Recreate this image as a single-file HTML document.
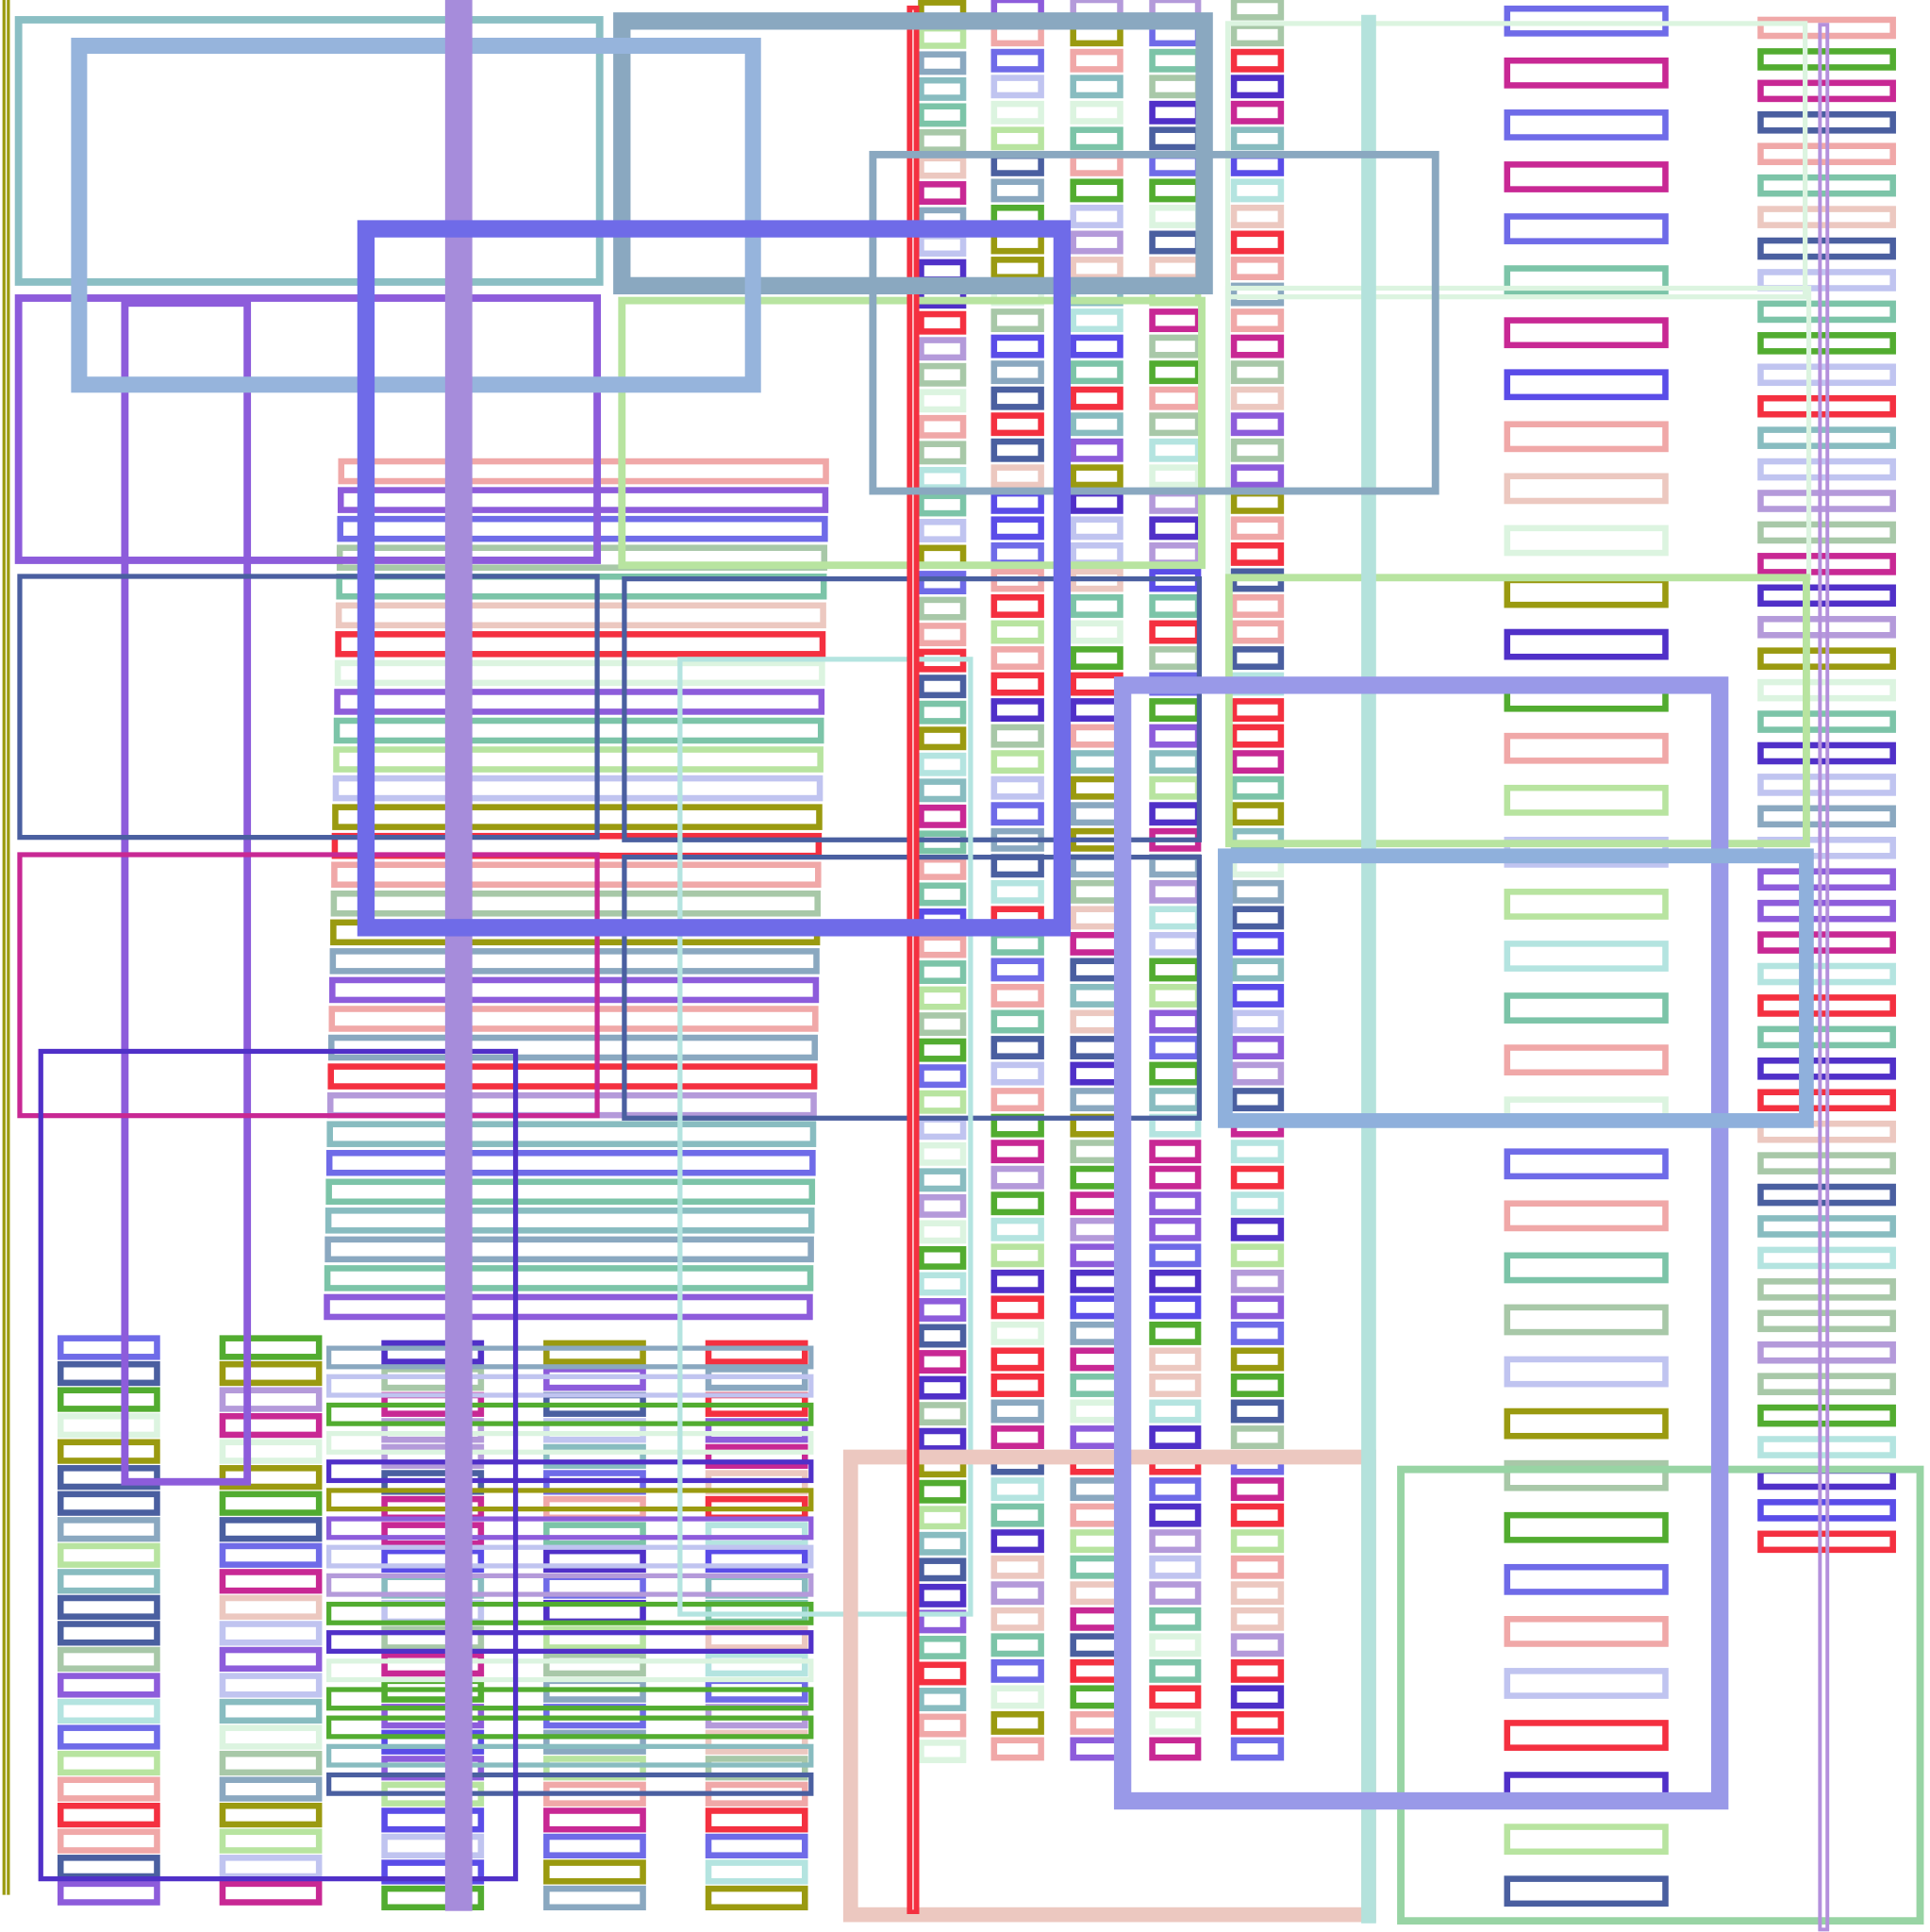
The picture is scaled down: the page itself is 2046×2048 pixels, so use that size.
<!DOCTYPE html>
<html><head><meta charset="utf-8"><style>html,body{margin:0;padding:0;background:#fff;overflow:hidden}svg{display:block}</style></head>
<body>
<svg id="s" xmlns="http://www.w3.org/2000/svg" width="2046" height="2048" viewBox="0 0 1561 1562" preserveAspectRatio="none">
<rect width="1561" height="1562" fill="#fff"/>
<g id="cols" fill="none"></g>
<g fill="none">
<line x1="5" y1="0" x2="5" y2="1532" stroke="#9a9a10" stroke-width="6"/>
<line x1="5" y1="0" x2="5" y2="1532" stroke="#fff" stroke-width="1"/>
<rect x="15" y="16" width="470" height="212" stroke="#8bbfc4" stroke-width="6"/>
<rect x="15" y="241" width="468" height="212" stroke="#8d5cdb" stroke-width="6"/>
<rect x="101" y="245" width="99" height="953" stroke="#8d5cdb" stroke-width="6"/>
<rect x="16" y="466" width="467" height="211" stroke="#4a5fa0" stroke-width="4"/>
<rect x="16" y="691" width="467" height="211" stroke="#c82894" stroke-width="4"/>
<rect x="33" y="850" width="384" height="669" stroke="#5030c8" stroke-width="4"/>
<rect x="505" y="468" width="465" height="211" stroke="#4a5fa0" stroke-width="4"/>
<rect x="505" y="693" width="465" height="211" stroke="#4a5fa0" stroke-width="4"/>
<rect x="550" y="533" width="235" height="772" stroke="#b4e4e0" stroke-width="4"/>
<rect x="503" y="243" width="469" height="214" stroke="#b8e4a0" stroke-width="6"/>
<rect x="993" y="19" width="467" height="221" stroke="#dcf4e0" stroke-width="4"/>
<rect x="993" y="233" width="470" height="234" stroke="#dcf4e0" stroke-width="4"/>
<rect x="994" y="467" width="467" height="215" stroke="#b8e4a0" stroke-width="6"/>
<rect x="688" y="1178" width="419" height="370" stroke="#ecc8c0" stroke-width="12"/>
<rect x="1133" y="1188" width="420" height="365" stroke="#98d4a4" stroke-width="6"/>
<rect x="1101" y="12" width="12" height="1543" fill="#b4e2dc" stroke="none"/>
<rect x="735" y="6" width="7" height="1540" fill="#f43040" stroke="#f43040" stroke-width="3"/>
<line x1="738.5" y1="8" x2="738.5" y2="1544" stroke="#fff" stroke-width="1"/>
<rect x="1472" y="20" width="6" height="1540" stroke="#b490dc" stroke-width="3"/>
<rect x="503" y="17" width="471" height="214" stroke="#8aa8c0" stroke-width="14"/>
<rect x="706" y="125" width="455" height="272" stroke="#8aa8c0" stroke-width="6"/>
<rect x="64" y="37" width="545" height="274" stroke="#96b4dc" stroke-width="13"/>
<rect x="360" y="0" width="22" height="1545" fill="#a68cdb" stroke="none"/>
<rect x="296" y="185" width="563" height="565" stroke="#6f6be8" stroke-width="14"/>
<rect x="908" y="554" width="483" height="902" stroke="#9999e8" stroke-width="14"/>
<rect x="991" y="692" width="470" height="214" stroke="#8fb0dc" stroke-width="12"/>
</g>
<script>
var pal=["#4a5fa0","#f43040","#6f6be8","#8aa8c0","#a8c8a8","#b8e4a0","#c82894","#5030c8","#7cc4a8","#f0a8a8","#ecc8c0","#8d5cdb","#b4e4e0","#9a9a10","#52ac30","#c0c4f0","#5a4ce8","#dcf4e0","#b49ada","#88bcc0"];
var g=document.getElementById("cols"),seed=7;
function r(){seed=(seed*9301+49297)%233280;return seed/233280;}
function add(x,y,w,h,sw){var e=document.createElementNS("http://www.w3.org/2000/svg","rect");e.setAttribute("x",x);e.setAttribute("y",y);e.setAttribute("width",w);e.setAttribute("height",h);e.setAttribute("stroke",pal[Math.floor(r()*pal.length)]);e.setAttribute("stroke-width",sw);g.appendChild(e);}
function col(x,w,y0,y1,step,h,sw){for(var y=y0;y<=y1;y+=step)add(x,y,w,h,sw);}
for(var i=0;i<30;i++){var y=373+i*23.3;var xr=668-i*0.45;add(276-i*0.4,y,xr-276+i*0.4,16,5);}
col(745,34,2,1410,21,14,5);
col(804,38,0,1410,21,14,5);
col(868,38,0,1410,21,14,5);
col(932,37,0,1410,21,14,5);
col(998,38,0,1410,21,14,5);
col(1219,128,7,1530,42,20,5);
col(1424,107,16,1245,25.5,13,5);
col(49,78,1082,1530,21,15,5);
col(180,78,1082,1530,21,15,5);
col(311,78,1086,1530,21,15,5);
col(442,78,1086,1530,21,15,5);
col(573,78,1086,1530,21,15,5);
for(var i=0;i<16;i++){add(266,1090+i*23,390,15,4);}
</script>
</svg>
</body></html>
